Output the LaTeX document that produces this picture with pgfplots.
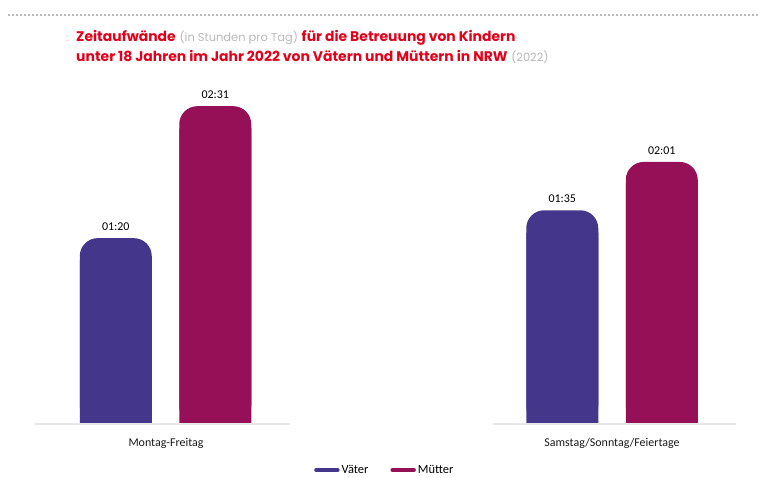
\documentclass[border=0pt]{standalone}
\usepackage{fontspec}
\setmainfont{Carlito}
\newfontfamily\pop{Poppins}
\usepackage{pgfplots}
\usepackage{pgfplotstable}
\pgfplotsset{compat=1.18}

\definecolor{vater}{RGB}{67,54,139}
\definecolor{mutter}{RGB}{150,16,88}
\definecolor{titlered}{RGB}{226,0,26}
\definecolor{lightline}{RGB}{232,232,232}

% minutes per day
\pgfplotstableread{
x min lab
0 80  01:20
1 95  01:35
}\vaeter
\pgfplotstableread{
x min lab
0 151 02:31
1 121 02:01
}\muetter

\begin{document}
\begin{tikzpicture}[x=1bp,y=1bp]
\useasboundingbox (0,0) rectangle (758,478);
\draw[gray!55, line width=1.6bp, dash pattern=on 1.6bp off 2.4bp] (8,463) -- (758,463);
\node[anchor=base west, inner sep=0, text=gray!50, font=\pop\fontsize{11}{13}\selectfont] at (66,436) {:};
\node[anchor=base west, inner sep=0, font=\pop\fontsize{14}{17}\selectfont] at (76,436)
  {\textcolor{titlered}{\bfseries Zeitaufwände} \textcolor{gray!55}{\fontsize{11.5}{13}\selectfont(in Stunden pro Tag)} \textcolor{titlered}{\bfseries für die Betreuung von Kindern}};
\node[anchor=base west, inner sep=0, font=\pop\fontsize{14}{17}\selectfont] at (76,416)
  {\textcolor{titlered}{\bfseries unter 18 Jahren im Jahr 2022 von Vätern und Müttern in NRW} \textcolor{gray!55}{\fontsize{11.5}{13}\selectfont(2022)}};
\begin{axis}[
    at={(35bp,54bp)}, anchor=south west,
    width=701bp, height=339bp, scale only axis,
    xmin=-0.2923, xmax=1.2777,
    ymin=20, ymax=202.4,
    axis lines=none,
    ybar,
    bar width=72bp,
    xtick=\empty, ytick=\empty,
    point meta=explicit symbolic,
    every node near coord/.append style={font=\fontsize{12}{14}\selectfont, text=black, yshift=4bp},
    legend style={at={(0.499,-0.1357)}, anchor=center, draw=none, legend columns=2,
      font=\fontsize{12.5}{14}\selectfont,
      /tikz/every even column/.append style={column sep=20bp}},
]
% rounded bars
\addplot[fill=vater, draw=none, rounded corners=18bp, bar shift=-49.75bp, nodes near coords,
  legend image code/.code={\draw[line width=4.5bp, line cap=round, vater] (2bp,0) -- (23bp,0);}]
  table[x=x, y expr=\thisrow{min}+40, meta=lab] {\vaeter};
\addplot[fill=mutter, draw=none, rounded corners=18bp, bar shift=49.75bp, nodes near coords,
  legend image code/.code={\draw[line width=4.5bp, line cap=round, mutter] (2bp,0) -- (23bp,0);}]
  table[x=x, y expr=\thisrow{min}+40, meta=lab] {\muetter};
% square lower parts so that only the tops are rounded
\addplot[fill=vater, draw=none, bar shift=-49.75bp, forget plot]
  table[x=x, y expr=\thisrow{min}+28] {\vaeter};
\addplot[fill=mutter, draw=none, bar shift=49.75bp, forget plot]
  table[x=x, y expr=\thisrow{min}+28] {\muetter};
\legend{Väter, Mütter}
\end{axis}
% baselines and category labels
\draw[lightline, line width=1.2bp] (35,54) -- (290,54);
\draw[lightline, line width=1.2bp] (493,54) -- (736,54);
\node[font=\fontsize{12}{14}\selectfont, text=black!90] at (166,35) {Montag-Freitag};
\node[font=\fontsize{12}{14}\selectfont, text=black!90] at (612,35) {Samstag/Sonntag/Feiertage};
\end{tikzpicture}
\end{document}
